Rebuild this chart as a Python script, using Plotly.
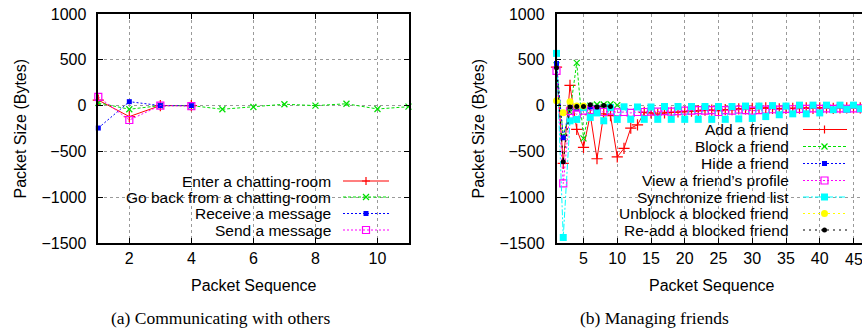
import plotly.graph_objects as go

# ---------------- data ----------------
# (a) Communicating with others
seq_a = list(range(1, 12))
enter_room = [60, -120, 0, 0]
go_back_room = [30, -40, 0, 0, -40, -15, 15, 0, 20, -37, -12]
receive_msg = [-245, 43, 0, 0]
send_msg = [95, -157, 0, -5]

# (b) Managing friends
seq_b = list(range(1, 47))
add_friend = [420, -630, 220, -260, -457, -100, -580, -90, -110, -560, -467, -245, -210, -75,
              -80, -95, -80, -75, -70, -65, -60, -55, -50, -50, -55, -45, -45, -35, -35, -30,
              -30, -25, -30, -35, -30, -30, -28, -25, -30, -25, -25, -30, -25, -25, -25, -25]
block_friend = [440, -330, -70, 467, -358, 0, 12, 12, 15, 5]
hide_friend = [460, -351, -13, -35, -25, -15, -20]
view_profile = [380, -850, -57, -95, -55, -50, -60, -70, -55, -75, -70, -80, -70, -70, -65, -65,
                -60, -65, -60, -55, -55, -50, -55, -50, -70, -50, -55, -45, -50, -55, -50, -45,
                -40, -45, -35, -40, -35, -35, -30, -35, -30, -35, -30, -35, -30, -30]
sync_list = [570, -1440, -166, -151, -20, -129, -80, -166, -20, -151, -13, -150, -15, -150, -15,
             -150, -10, -150, -10, -150, -10, -150, -10, -150, -10, -150, -10, -145, -5, -140,
             -5, -120, 0, -100, -5, -90, 5, -90, 5, -80, 5, -45, 5, -40, 5, -35]
unblock_friend = [52, -78, 41, -5, -5]
readd_friend = [413, -613, -16, -10, -10, 10, -16, 0, -10]

x_ticks_a = [2, 4, 6, 8, 10]
x_ticks_b = [5, 10, 15, 20, 25, 30, 35, 40, 45]
y_ticks = [-1500, -1000, -500, 0, 500, 1000]

names_a = ["Enter a chatting-room", "Go back from a chatting-room",
           "Receive a message", "Send a message"]
names_b = ["Add a friend", "Block a friend", "Hide a friend", "View a friend\u2019s profile",
           "Synchronize friend list", "Unblock a blocked friend", "Re-add a blocked friend"]

# ---------------- geometry ----------------
W, H = 862, 332
MT, MB = 14, 89
PH = H - MT - MB


def px(p):
    return p / W


def py(p):
    return (H - MB - p) / PH


FONT = "Liberation Sans"
styles = {
    "red": dict(color="#ff0000", dash="solid", symbol="cross-thin-open", size=8, mline=1.2),
    "green": dict(color="#00e000", dash="3px,2px", symbol="x-thin-open", size=6, mline=1.2),
    "blue": dict(color="#0000ff", dash="2px,2px", symbol="square", size=5, mline=0),
    "magenta": dict(color="#ff00ff", dash="2px,2px", symbol="square-open", size=7, mline=1.2),
    "cyan": dict(color="#00ffff", dash="6px,2px,2px,2px", symbol="square", size=7, mline=0),
    "yellow": dict(color="#ffff00", dash="2px,3px", symbol="circle", size=7, mline=0),
    "black": dict(color="#000000", dash="2px,4px", symbol="circle", size=5, mline=0),
}

fig = go.Figure()


def add_series(x, y, st, xa, ya, name):
    s = styles[st]
    fig.add_trace(go.Scatter(
        x=x[:len(y)], y=y, name=name, mode="lines+markers", xaxis=xa, yaxis=ya,
        cliponaxis=False, showlegend=False,
        line=dict(color=s["color"], dash=s["dash"], width=1),
        marker=dict(symbol=s["symbol"], size=s["size"], color=s["color"],
                    line=dict(color=s["color"], width=s["mline"])),
    ))


series_a = [(enter_room, "red"), (go_back_room, "green"), (receive_msg, "blue"), (send_msg, "magenta")]
for (vals, st), nm in zip(series_a, names_a):
    add_series(seq_a, vals, st, "x", "y", nm)

series_b = [(add_friend, "red"), (block_friend, "green"), (hide_friend, "blue"),
            (view_profile, "magenta"), (sync_list, "cyan"), (unblock_friend, "yellow"),
            (readd_friend, "black")]
for (vals, st), nm in zip(series_b, names_b):
    add_series(seq_b, vals, st, "x2", "y2", nm)

axis_common = dict(
    showgrid=True, gridcolor="#9a9a9a", griddash="dot", gridwidth=1,
    showline=True, linecolor="black", linewidth=1.5,
    ticks="inside", ticklen=5, tickcolor="black", tickwidth=1,
    tickfont=dict(family=FONT, size=16, color="black"),
    zeroline=False,
)

# the last tick label of panel (b) sits on the window edge; plotly drops it there,
# so it is written as an annotation at the same tick position
ticktext_b = [str(v) for v in x_ticks_b[:-1]] + [""]

fig.update_layout(
    width=W, height=H, margin=dict(l=0, r=0, t=MT, b=MB),
    paper_bgcolor="white", plot_bgcolor="white", showlegend=False,
    xaxis=dict(domain=[px(98.3), px(408.5)], range=[1, 11], tickvals=x_ticks_a,
               mirror="ticks", anchor="y", **axis_common),
    yaxis=dict(domain=[0, 1], range=[-1500, 1000], tickvals=y_ticks, mirror="ticks",
               anchor="x", ticklabelstandoff=7, **axis_common),
    xaxis2=dict(domain=[px(556.5), 1.0], range=[1, 1 + (862 - 556.5) / 6.75],
                tickvals=x_ticks_b, ticktext=ticktext_b,
                mirror=True, anchor="y2", **axis_common),
    yaxis2=dict(domain=[0, 1], range=[-1500, 1000], tickvals=y_ticks, mirror=False,
                anchor="x2", ticklabelstandoff=7, **axis_common),
)

shapes = []
annotations = []

# opaque key boxes (cover grid, sit under data)
shapes.append(dict(type="rect", xref="paper", yref="paper", x0=px(125), x1=px(402),
                   y0=py(242), y1=py(172), fillcolor="white", line=dict(width=0), layer="between"))
shapes.append(dict(type="rect", xref="paper", yref="paper", x0=px(610), x1=px(855),
                   y0=py(242), y1=py(121), fillcolor="white", line=dict(width=0), layer="between"))


def key_marker(st, xm, ym):
    s = styles[st]
    c = s["color"]
    base = dict(xref="paper", yref="paper", xsizemode="pixel", ysizemode="pixel",
                xanchor=xm, yanchor=ym, layer="above")
    if st == "red":
        return dict(type="path", path="M-4,0 L4,0 M0,-4 L0,4", line=dict(color=c, width=1.2), **base)
    if st == "green":
        return dict(type="path", path="M-3,-3 L3,3 M-3,3 L3,-3", line=dict(color=c, width=1.2), **base)
    if st == "blue":
        return dict(type="rect", x0=-2.5, x1=2.5, y0=-2.5, y1=2.5, fillcolor=c, line=dict(width=0), **base)
    if st == "magenta":
        return dict(type="rect", x0=-3.5, x1=3.5, y0=-3.5, y1=3.5, line=dict(color=c, width=1.2), **base)
    if st == "cyan":
        return dict(type="rect", x0=-3.5, x1=3.5, y0=-3.5, y1=3.5, fillcolor=c, line=dict(width=0), **base)
    if st == "yellow":
        return dict(type="circle", x0=-3.5, x1=3.5, y0=-3.5, y1=3.5, fillcolor=c, line=dict(width=0), **base)
    return dict(type="circle", x0=-2.5, x1=2.5, y0=-2.5, y1=2.5, fillcolor=c, line=dict(width=0), **base)


def add_key(names, sts, text_right, line_x0, line_x1, mark_x, rows):
    for nm, st, r in zip(names, sts, rows):
        s = styles[st]
        annotations.append(dict(xref="paper", yref="paper", x=px(text_right), y=py(r),
                                xanchor="right", yanchor="middle", showarrow=False, text=nm,
                                font=dict(family=FONT, size=15.5, color="black")))
        shapes.append(dict(type="line", xref="paper", yref="paper", x0=px(line_x0), x1=px(line_x1),
                           y0=py(r), y1=py(r), line=dict(color=s["color"], dash=s["dash"], width=1.1),
                           layer="above"))
        shapes.append(key_marker(st, px(mark_x), py(r)))


add_key(names_a, [s for _, s in series_a], 333, 343, 389, 366, [181, 197, 213.5, 230])
add_key(names_b, [s for _, s in series_b], 791, 803, 847, 824.5,
        [129.5, 146.5, 163.5, 180.5, 197, 213.5, 230])

# axis titles and captions
title_font = dict(family=FONT, size=16, color="black")
cap_font = dict(family="Liberation Serif", size=17.5, color="black")
annotations += [
    dict(xref="x2", yref="paper", x=x_ticks_b[-1], y=py(259), text=str(x_ticks_b[-1]),
         showarrow=False, font=dict(family=FONT, size=16, color="black"),
         xanchor="center", yanchor="middle"),
    dict(xref="paper", yref="paper", x=px(20), y=py(128.5), text="Packet Size (Bytes)",
         textangle=-90, showarrow=False, font=title_font, xanchor="center", yanchor="middle"),
    dict(xref="paper", yref="paper", x=px(478), y=py(128.5), text="Packet Size (Bytes)",
         textangle=-90, showarrow=False, font=title_font, xanchor="center", yanchor="middle"),
    dict(xref="paper", yref="paper", x=px(253.5), y=py(285), text="Packet Sequence",
         showarrow=False, font=title_font, xanchor="center", yanchor="middle"),
    dict(xref="paper", yref="paper", x=px(712), y=py(285), text="Packet Sequence",
         showarrow=False, font=title_font, xanchor="center", yanchor="middle"),
    dict(xref="paper", yref="paper", x=px(220), y=py(318), text="(a) Communicating with others",
         showarrow=False, font=cap_font, xanchor="center", yanchor="middle"),
    dict(xref="paper", yref="paper", x=px(654), y=py(318), text="(b) Managing friends",
         showarrow=False, font=cap_font, xanchor="center", yanchor="middle"),
]

fig.update_layout(shapes=shapes, annotations=annotations)
# remove the browser's default 8px body margin so the figure sits at the window origin
fig.write_html("out.html",
               config={"displayModeBar": False},
               post_script="document.body.style.margin='0';document.body.style.padding='0';"
                           "document.body.style.overflow='hidden';")
